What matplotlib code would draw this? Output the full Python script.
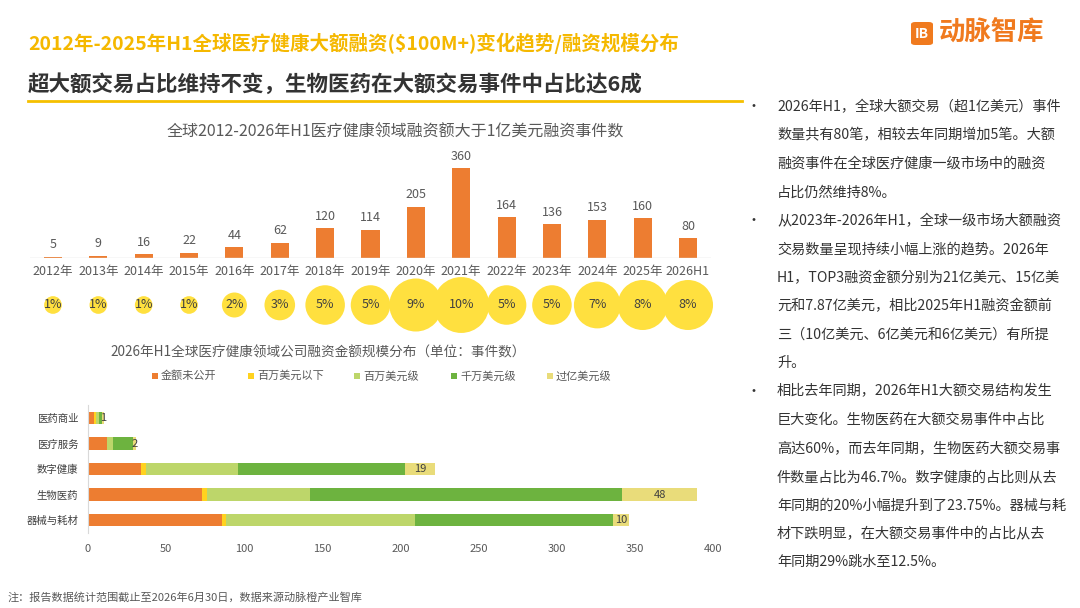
import matplotlib
matplotlib.use("Agg")
import matplotlib.pyplot as plt
from matplotlib.patches import FancyBboxPatch, Rectangle

plt.rcParams['font.family'] = ['Noto Sans CJK SC', 'DejaVu Sans']

# data for the yearly bar chart
years = ['2012年', '2013年', '2014年', '2015年', '2016年', '2017年', '2018年', '2019年',
         '2020年', '2021年', '2022年', '2023年', '2024年', '2025年', '2026H1']
deal_counts = [5, 9, 16, 22, 44, 62, 120, 114, 205, 360, 164, 136, 153, 160, 80]
deal_share = [1, 1, 1, 1, 2, 3, 5, 5, 9, 10, 5, 5, 7, 8, 8]

# data for the stacked bar chart (bottom to top)
sectors = ['器械与耗材', '生物医药', '数字健康', '医疗服务', '医药商业']
size_levels = ['金额未公开', '百万美元以下', '百万美元级', '千万美元级', '过亿美元级']
undisclosed = [86, 73, 34, 12, 4]
below_million = [2, 3, 3, 0, 1]
million_level = [121, 66, 59, 4, 2]
ten_million_level = [127, 200, 107, 13, 2]
over_100m = [10, 48, 19, 2, 1]

level_colors = ['#ED7D31', '#FFD21F', '#BDD66A', '#6DB33F', '#E9DC7A']

W, H = 1080, 608
fig = plt.figure(figsize=(W / 100, H / 100), dpi=100)
fig.patch.set_facecolor('white')


def px_axes(x0, y0, x1, y1):
    return fig.add_axes([x0 / W, 1 - y1 / H, (x1 - x0) / W, (y1 - y0) / H])


def px_text(x, y, s, **kw):
    return fig.text(x / W, 1 - y / H, s, **kw)


# headline area
px_text(28, 43, '2012年-2025年H1全球医疗健康大额融资($100M+)变化趋势/融资规模分布',
        fontsize=14, fontweight='bold', color='#F5B800', va='center')
px_text(28, 84, '超大额交易占比维持不变，生物医药在大额交易事件中占比达6成',
        fontsize=15.5, fontweight='bold', color='#333333', va='center')
fig.add_artist(plt.Line2D([28 / W, 742 / W], [1 - 101 / H, 1 - 101 / H],
                          color='#F5C000', linewidth=2))

# logo
logo = FancyBboxPatch((911 / W, 1 - 45 / H), 22 / W, 23 / H,
                      boxstyle='round,pad=0,rounding_size=0.004',
                      transform=fig.transFigure, facecolor='#F07A1E', edgecolor='none')
fig.add_artist(logo)
px_text(922, 34, 'IB', fontsize=10, fontweight='bold', color='white',
        ha='center', va='center')
px_text(939, 33, '动脉智库', fontsize=19, fontweight='bold', color='#F07A1E', va='center')

# yearly bar chart
ax1 = px_axes(30.3, 150, 710.7, 258)
x = range(len(years))
ax1.bar(x, deal_counts, width=0.4, color='#ED7D31')
for i, v in zip(x, deal_counts):
    ax1.text(i, v + 22, str(v), ha='center', va='bottom', fontsize=9, color='#595959')
ax1.set_xlim(-0.5, len(years) - 0.5)
ax1.set_ylim(0, 432)
ax1.set_xticks(list(x))
ax1.set_xticklabels(years, fontsize=9, color='#595959')
ax1.tick_params(axis='x', length=0, pad=5)
ax1.set_yticks([])
for s in ax1.spines.values():
    s.set_visible(False)
ax1.axhline(0, color='#D9D9D9', linewidth=1)
px_text(395, 132, '全球2012-2026年H1医疗健康领域融资额大于1亿美元融资事件数',
        fontsize=11.5, color='#595959', ha='center', va='center')

# bubble row for share of deals
ax2 = px_axes(30.3, 275, 710.7, 335)
ax2.scatter(list(x), [0] * len(years), s=[p * 162 for p in deal_share],
            color='#FFE03F', edgecolors='none', clip_on=False)
for i, p in zip(x, deal_share):
    ax2.text(i, 0, f'{p}%', ha='center', va='center', fontsize=9, color='#404040')
ax2.set_xlim(-0.5, len(years) - 0.5)
ax2.set_ylim(-1, 1)
ax2.axis('off')

# stacked bar chart
px_text(110, 352, '2026年H1全球医疗健康领域公司融资金额规模分布（单位：事件数）',
        fontsize=9.8, color='#595959', va='center')

legend_x = [155, 251, 357, 454, 550]
for lx, name, c in zip(legend_x, size_levels, level_colors):
    fig.add_artist(Rectangle(((lx - 3) / W, 1 - 379 / H), 6 / W, 6 / H,
                             transform=fig.transFigure, facecolor=c, edgecolor='none'))
    px_text(lx + 6, 376, name, fontsize=8, color='#595959', va='center')

ax3 = px_axes(88, 405.25, 713, 532.75)
series = [undisclosed, below_million, million_level, ten_million_level, over_100m]
left = [0] * len(sectors)
for vals, c in zip(series, level_colors):
    ax3.barh(range(len(sectors)), vals, left=left, height=0.48, color=c)
    left = [a + b for a, b in zip(left, vals)]
for i, (v, l) in enumerate(zip(over_100m, left)):
    ax3.text(l - v / 2, i, str(v), ha='center', va='center', fontsize=8, color='#404040')
ax3.set_xlim(0, 400)
ax3.set_ylim(-0.5, len(sectors) - 0.5)
ax3.set_yticks(range(len(sectors)))
ax3.set_yticklabels(sectors, fontsize=7.5, color='#404040')
ax3.set_xticks(range(0, 401, 50))
ax3.tick_params(axis='x', length=0, pad=8, labelsize=8, labelcolor='#595959')
ax3.tick_params(axis='y', length=0, pad=7)
for name, s in ax3.spines.items():
    s.set_visible(name == 'left')
ax3.spines['left'].set_color('#D9D9D9')

# right side commentary
notes = [
    (True, '2026年H1，全球大额交易（超1亿美元）事件'),
    (False, '数量共有80笔，相较去年同期增加5笔。大额'),
    (False, '融资事件在全球医疗健康一级市场中的融资'),
    (False, '占比仍然维持8%。'),
    (True, '从2023年-2026年H1，全球一级市场大额融资'),
    (False, '交易数量呈现持续小幅上涨的趋势。2026年'),
    (False, 'H1，TOP3融资金额分别为21亿美元、15亿美'),
    (False, '元和7.87亿美元，相比2025年H1融资金额前'),
    (False, '三（10亿美元、6亿美元和6亿美元）有所提'),
    (False, '升。'),
    (True, '相比去年同期，2026年H1大额交易结构发生'),
    (False, '巨大变化。生物医药在大额交易事件中占比'),
    (False, '高达60%，而去年同期，生物医药大额交易事'),
    (False, '件数量占比为46.7%。数字健康的占比则从去'),
    (False, '年同期的20%小幅提升到了23.75%。器械与耗'),
    (False, '材下跌明显，在大额交易事件中的占比从去'),
    (False, '年同期29%跳水至12.5%。'),
]
for k, (bullet, line) in enumerate(notes):
    y = 107 + k * 28.45
    if bullet:
        px_text(753, y, '•', fontsize=10, color='#333333', va='center', ha='center')
    px_text(777, y, line, fontsize=10.2, color='#333333', va='center')

px_text(8, 597, '注：报告数据统计范围截止至2026年6月30日，数据来源动脉橙产业智库',
        fontsize=8, color='#595959', va='center')

fig.savefig('out.png', dpi=100)
